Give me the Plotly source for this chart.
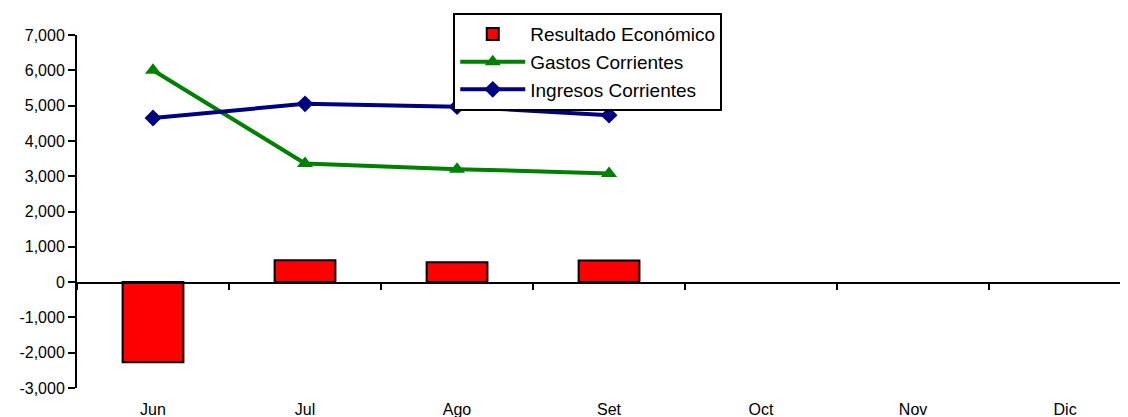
import plotly.graph_objects as go

months = ["Jun", "Jul", "Ago", "Set", "Oct", "Nov", "Dic"]
resultado = [-2270, 620, 560, 610, None, None, None]
gastos = [6000, 3360, 3200, 3080, None, None, None]
ingresos = [4650, 5050, 4970, 4730, None, None, None]
y_ticks = [-3000, -2000, -1000, 0, 1000, 2000, 3000, 4000, 5000, 6000, 7000]
y_tick_labels = ["-3,000", "-2,000", "-1,000", "0", "1,000", "2,000", "3,000",
                 "4,000", "5,000", "6,000", "7,000"]

FONT = "Liberation Sans, Arial, sans-serif"

fig = go.Figure()
fig.add_trace(go.Bar(
    x=months, y=resultado, name="Resultado Económico",
    marker=dict(color="#FF0000", line=dict(color="black", width=2)),
    width=0.4,
))
fig.add_trace(go.Scatter(
    x=months, y=gastos, name="Gastos Corrientes", mode="lines+markers",
    line=dict(color="#008000", width=4),
    marker=dict(symbol="triangle-up", size=14, color="#008000"),
))
fig.add_trace(go.Scatter(
    x=months, y=ingresos, name="Ingresos Corrientes", mode="lines+markers",
    line=dict(color="#000080", width=4),
    marker=dict(symbol="diamond", size=13, color="#000080"),
))
# helper trace so the zero-anchored category axis gets its categories
fig.add_trace(go.Scatter(
    x=months, y=[0] * len(months), xaxis="x2", yaxis="y2", mode="markers",
    marker=dict(opacity=0), showlegend=False, hoverinfo="skip",
))

xr = [-0.5, 6.414]
fig.update_layout(
    width=1120, height=409,
    margin=dict(l=69, r=0, t=27, b=29, autoexpand=False),
    paper_bgcolor="white", plot_bgcolor="rgba(0,0,0,0)",
    font=dict(family=FONT, size=16, color="black"),
    showlegend=True,
    legend=dict(
        x=0.358, y=1.062, xanchor="left", yanchor="top",
        bordercolor="black", borderwidth=2, bgcolor="white",
        font=dict(family=FONT, size=19, color="black"),
        itemwidth=65, tracegroupgap=0,
    ),
    xaxis=dict(
        type="category", categoryorder="array", categoryarray=months,
        range=xr, showline=False, ticks="", showgrid=False, zeroline=False,
        tickfont=dict(family=FONT, size=16), automargin=False,
        ticklabelstandoff=10,
    ),
    xaxis2=dict(
        type="category", categoryorder="array", categoryarray=months,
        overlaying="x", anchor="y2", range=xr, showline=True,
        linecolor="black", linewidth=2, ticks="outside", tickson="boundaries",
        ticklen=6, tickwidth=2, tickcolor="black", showticklabels=False,
        showgrid=False, zeroline=False, automargin=False,
    ),
    yaxis=dict(
        range=[-3000, 7000], tickvals=y_ticks, ticktext=y_tick_labels,
        showline=True, linecolor="black", linewidth=2, ticks="outside",
        ticklen=7, tickwidth=2, tickcolor="black", showgrid=False,
        zeroline=False, tickfont=dict(family=FONT, size=16), automargin=False,
    ),
    yaxis2=dict(
        domain=[0.3, 1], range=[0, 7000], visible=False, showgrid=False,
        zeroline=False,
    ),
    bargap=0.6,
)

fig.write_html("out.html")
